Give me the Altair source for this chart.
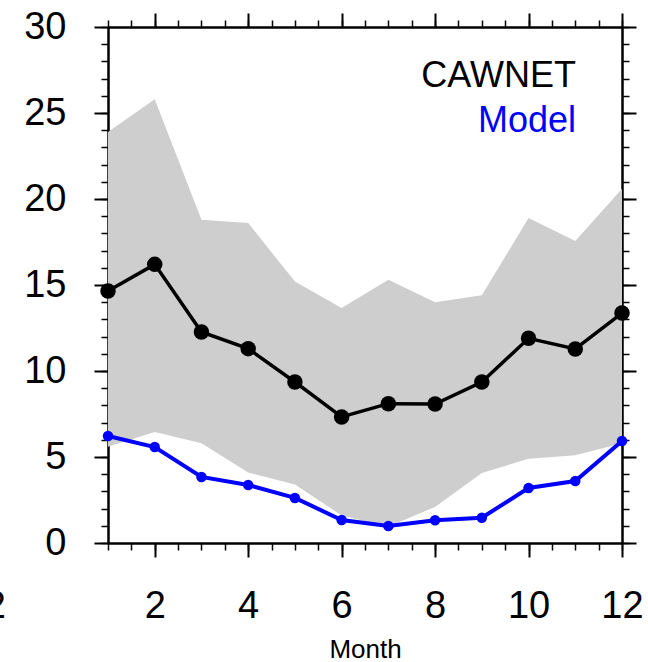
import altair as alt
import pandas as pd

# ---- data ----
months = list(range(1, 13))
cawnet = [14.65, 16.2, 12.27, 11.3, 9.36, 7.33, 8.1, 8.08, 9.36, 11.9, 11.28, 13.37]
model = [6.22, 5.58, 3.84, 3.37, 2.62, 1.34, 0.99, 1.32, 1.47, 3.2, 3.6, 5.93]
band_upper = [23.9, 25.8, 18.8, 18.6, 15.2, 13.66, 15.3, 14.0, 14.4, 18.9, 17.56, 20.6]
band_lower = [5.6, 6.45, 5.8, 4.1, 3.4, 1.6, 0.95, 2.1, 4.07, 4.9, 5.1, 5.8]

x_major = [2, 4, 6, 8, 10, 12]
x_minor = [1 + 0.5 * i for i in range(23)]
y_major = [0, 5, 10, 15, 20, 25, 30]
y_minor = list(range(31))

legend_labels = ["CAWNET", "Model"]
legend_colors = ["black", "#0000ff"]

df = pd.DataFrame({
    "month": months,
    "cawnet": cawnet,
    "model": model,
    "upper": band_upper,
    "lower": band_lower,
})

FONT = "Liberation Sans"
xs = alt.Scale(domain=[1, 12], nice=False, zero=False)
ys = alt.Scale(domain=[0, 30], nice=False, zero=True)


def axis(orient, values, size, labels=False, title=None, **kw):
    opts = dict(
        orient=orient, values=values, tickSize=size, labels=labels,
        grid=False, domain=True, domainColor="black", domainWidth=2,
        tickColor="black", tickWidth=2 if size > 10 else 1.5,
        title=title,
    )
    opts.update(kw)
    return alt.Axis(**opts)


base = alt.Chart(df)

band = base.mark_area(color="#cecece", opacity=1).encode(
    x=alt.X("month:Q", scale=xs,
            axis=axis("bottom", x_major, 14, labels=True, title="Month",
                      labelFont=FONT, labelFontSize=38, labelColor="black",
                      labelPadding=30, labelFlush=False, labelOverlap=False,
                      titleFont=FONT, titleFontSize=26, titleFontWeight="normal",
                      titleColor="black", titlePadding=11)),
    y=alt.Y("upper:Q", scale=ys,
            axis=axis("left", y_major, 14, labels=True,
                      labelFont=FONT, labelFontSize=38, labelColor="black",
                      labelPadding=28, labelFlush=False, labelOverlap=False)),
    y2="lower:Q",
)

black_line = base.mark_line(color="black", strokeWidth=3.5).encode(
    x=alt.X("month:Q", scale=xs, axis=axis("top", x_major, 14)),
    y=alt.Y("cawnet:Q", scale=ys, axis=axis("right", y_major, 14)),
)

black_pts = base.mark_point(color="black", filled=True, size=240, opacity=1).encode(
    x=alt.X("month:Q", scale=xs, axis=axis("bottom", x_minor, 7)),
    y=alt.Y("cawnet:Q", scale=ys, axis=axis("left", y_minor, 7)),
)

blue_line = base.mark_line(color="#0000ff", strokeWidth=4).encode(
    x=alt.X("month:Q", scale=xs, axis=axis("top", x_minor, 7)),
    y=alt.Y("model:Q", scale=ys, axis=axis("right", y_minor, 7)),
)

blue_pts = base.mark_point(color="#0000ff", filled=True, size=110, opacity=1).encode(
    x=alt.X("month:Q", scale=xs, axis=None),
    y=alt.Y("model:Q", scale=ys, axis=None),
)

legend_y = [60, 105]
legend_layers = []
for lab, col, yy in zip(legend_labels, legend_colors, legend_y):
    legend_layers.append(
        alt.Chart(pd.DataFrame({"label": [lab]})).mark_text(
            font=FONT, fontSize=36, align="right", baseline="alphabetic", color=col
        ).encode(text="label:N", x=alt.value(468), y=alt.value(yy))
    )

# partial tick label of a neighbouring panel visible at the left edge
stray = alt.Chart(pd.DataFrame({"t": ["12"]})).mark_text(
    font=FONT, fontSize=38, align="right", baseline="alphabetic", color="black"
).encode(text="t:N", x=alt.value(-102), y=alt.value(591))

chart = (
    alt.layer(band, black_line, black_pts, blue_line, blue_pts, *legend_layers, stray)
    .resolve_axis(x="independent", y="independent")
    .properties(
        width=514, height=516,
        autosize=alt.AutoSizeParams(type="none"),
        padding={"left": 108, "top": 27, "right": 26, "bottom": 119},
        background="white",
    )
    .configure_view(stroke=None)
)

chart.save("out.html", embed_options={"renderer": "svg", "actions": False})
